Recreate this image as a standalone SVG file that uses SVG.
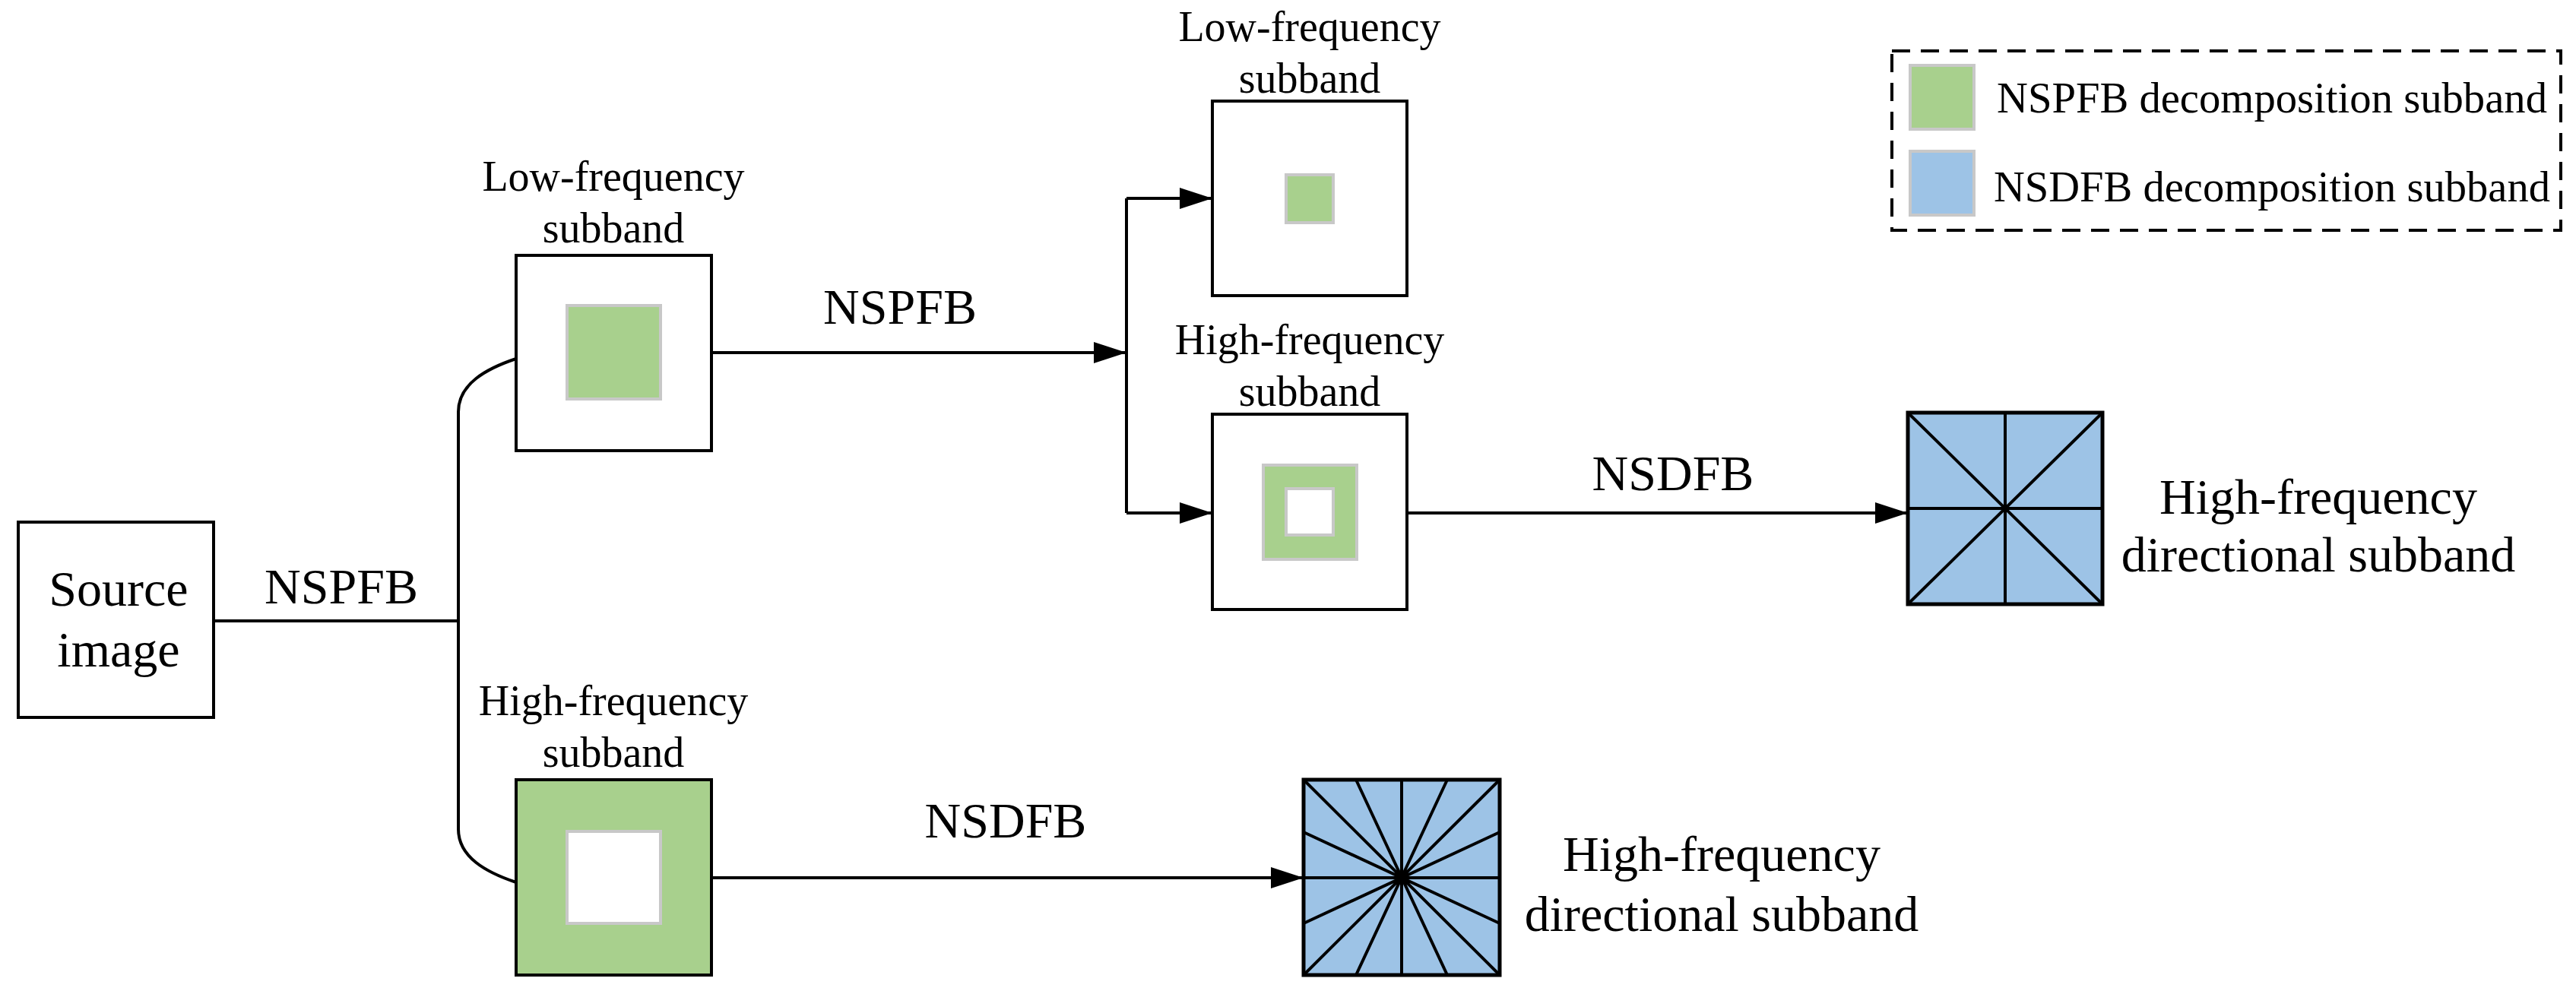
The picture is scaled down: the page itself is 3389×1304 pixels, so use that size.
<svg xmlns="http://www.w3.org/2000/svg" width="3389" height="1304" viewBox="0 0 3389 1304">
<style>
text{font-family:"Liberation Serif","Times New Roman",serif;fill:#000}
.box{fill:#fff;stroke:#000;stroke-width:4}
.g{fill:#A8D08D;stroke:#c8c8c8;stroke-width:4}
.w{fill:#fff;stroke:#c8c8c8;stroke-width:4}
.b{fill:#9DC3E6;stroke:#000;stroke-width:5}
.ln{stroke:#000;stroke-width:4;fill:none}
.c{stroke:#000;stroke-width:4;fill:none}
.lbl{font-size:56px;text-anchor:middle}
.big{font-size:66px;text-anchor:middle}
</style>
<defs>
<marker id="ah" markerUnits="userSpaceOnUse" markerWidth="44" markerHeight="28" refX="43" refY="14" orient="auto">
<path d="M0,0 L43,14 L0,28 z" fill="#000"/>
</marker>
</defs>
<rect width="3389" height="1304" fill="#fff"/>
<g id="source">
<rect class="box" x="24" y="687" width="257" height="257"/>
<text class="big" x="156" y="797">Source</text>
<text class="big" x="156" y="877">image</text>
</g>
<g id="low1">
<text class="lbl" x="807" y="251">Low-frequency</text>
<text class="lbl" x="807" y="319">subband</text>
<rect class="box" x="679" y="336" width="257" height="257"/>
<rect class="g" x="746" y="402" width="123" height="123"/>
</g>
<g id="high1">
<text class="lbl" x="807" y="941">High-frequency</text>
<text class="lbl" x="807" y="1009">subband</text>
<rect x="679" y="1026" width="257" height="257" fill="#A8D08D" stroke="#000" stroke-width="4"/>
<rect class="w" x="746" y="1094" width="123" height="121"/>
</g>
<g id="low2">
<text class="lbl" x="1723" y="54">Low-frequency</text>
<text class="lbl" x="1723" y="122">subband</text>
<rect class="box" x="1595" y="133" width="256" height="256"/>
<rect class="g" x="1692" y="230" width="62" height="63"/>
</g>
<g id="high2">
<text class="lbl" x="1723" y="466">High-frequency</text>
<text class="lbl" x="1723" y="534">subband</text>
<rect class="box" x="1595" y="545" width="256" height="257"/>
<rect class="g" x="1662" y="612" width="123" height="124"/>
<rect class="w" x="1692" y="643" width="62" height="61"/>
</g>
<g id="dir1">
<rect class="b" x="2510" y="543" width="256" height="252"/>
<path class="c" stroke-width="3" d="M2510,543 L2766,795 M2766,543 L2510,795 M2638,543 L2638,795 M2510,669 L2766,669"/>
<text class="big" x="3050" y="676">High-frequency</text>
<text class="big" x="3050" y="752">directional subband</text>
</g>
<g id="dir2">
<rect class="b" x="1715" y="1026" width="258" height="257"/>
<path class="c" d="M1715,1026 L1973,1283 M1973,1026 L1715,1283 M1844,1026 L1844,1283 M1715,1155 L1973,1155 M1784,1026 L1904,1283 M1904,1026 L1784,1283 M1715,1095 L1973,1215 M1715,1215 L1973,1095"/>
<text class="big" x="2265" y="1146">High-frequency</text>
<text class="big" x="2265" y="1225">directional subband</text>
</g>
<g id="legend">
<rect x="2489" y="67" width="880" height="236" fill="none" stroke="#000" stroke-width="4" stroke-dasharray="24,14"/>
<rect class="g" x="2513" y="86" width="84" height="84"/>
<rect x="2513" y="199" width="84" height="84" fill="#9DC3E6" stroke="#c8c8c8" stroke-width="4"/>
<text x="2627" y="148" font-size="56" textLength="724" lengthAdjust="spacingAndGlyphs">NSPFB decomposition subband</text>
<text x="2623" y="265" font-size="56" textLength="732" lengthAdjust="spacingAndGlyphs">NSDFB decomposition subband</text>
</g>
<g id="connectors">
<path class="ln" d="M281,817 L603,817"/>
<path class="ln" d="M679,472 C640,485 603,505 603,542 L603,1091 C603,1128 640,1148 679,1161"/>
<path class="ln" d="M936,464 L1482,464" marker-end="url(#ah)"/>
<path class="ln" d="M1482,261 L1482,675"/>
<path class="ln" d="M1482,261 L1595,261" marker-end="url(#ah)"/>
<path class="ln" d="M1482,675 L1595,675" marker-end="url(#ah)"/>
<path class="ln" d="M1851,675 L2510,675" marker-end="url(#ah)"/>
<path class="ln" d="M936,1155 L1715,1155" marker-end="url(#ah)"/>
<text class="big" x="449" y="794">NSPFB</text>
<text class="big" x="1184" y="426">NSPFB</text>
<text class="big" x="2201" y="645">NSDFB</text>
<text class="big" x="1323" y="1102">NSDFB</text>
</g>
</svg>
